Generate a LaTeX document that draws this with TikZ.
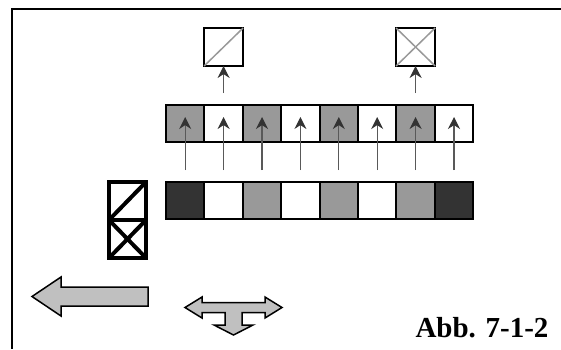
\documentclass[tikz,border=0pt]{standalone}
\usepackage{fontspec}
\setmainfont{Liberation Serif}
\usepackage{xcolor}
\usetikzlibrary{positioning,arrows.meta}
\definecolor{cellgray}{HTML}{999999}
\definecolor{celldark}{HTML}{333333}
\definecolor{arrowfill}{HTML}{C0C0C0}

\begin{document}
\begin{tikzpicture}[x=1pt,y=-1pt,
  cell/.style={draw=black,line width=2pt,minimum width=38.4pt,minimum height=37pt,inner sep=0pt,outer sep=0pt},
  topbox/.style={draw=black,line width=2pt,minimum width=39pt,minimum height=38pt,inner sep=0pt,outer sep=0pt},
  stackbox/.style={draw=black,line width=4pt,minimum width=37pt,minimum height=38pt,inner sep=0pt,outer sep=0pt},
  uparrow/.style={draw=black!65,line width=1.2pt,-{Stealth[length=12pt,width=12pt,color=black!80]}},
  fatarrow/.style={draw=black,line width=1.5pt,fill=arrowfill,line join=miter}]
\useasboundingbox (0,0) rectangle (561,349);
\draw [line width=2.5pt] (11,9) -- (561,9);
\draw [line width=2pt] (12,9) -- (12,349);
\foreach \i/\c in {1/cellgray,2/white,3/cellgray,4/white,5/cellgray,6/white,7/cellgray,8/white}
  \node [cell,fill=\c] (m\i) at (185.2+38.4*\i-38.4,123.5) {};
\foreach \i/\c in {1/celldark,2/white,3/cellgray,4/white,5/cellgray,6/white,7/cellgray,8/celldark}
  \node [cell,fill=\c] (b\i) at (185.2+38.4*\i-38.4,200) {};
\foreach \i in {1,...,8}
  \draw [uparrow,shorten <=11.5pt,shorten >=12pt] (b\i.north) -- (m\i.north);
\node [topbox,above=39pt of m2] (t1) {};
\node [topbox,above=39pt of m7] (t2) {};
\draw [cellgray,line width=1.5pt] (t1.south west) -- (t1.north east);
\draw [cellgray,line width=1.5pt] (t2.south west) -- (t2.north east);
\draw [cellgray,line width=1.5pt] (t2.north west) -- (t2.south east);
\draw [uparrow,shorten <=12pt] (m2.north) -- (t1.south);
\draw [uparrow,shorten <=12pt] (m7.north) -- (t2.south);
\node [stackbox] (s1) at (127.5,201) {};
\node [stackbox,below=0pt of s1] (s2) {};
\draw [line width=4pt] (s1.north east) -- (s1.south west);
\draw [line width=4pt] (s2.north east) -- (s2.south west);
\draw [line width=4pt] (s2.north west) -- (s2.south east);
\draw [fatarrow] (148,287) -- (61,287) -- (61,277) -- (32,296.5) -- (61,316) -- (61,306) -- (148,306) -- cycle;
\draw [fatarrow] (185,307.5) -- (202,297) -- (202,302.5) -- (265,302.5) -- (265,297) -- (282,307.5)
  -- (265,318) -- (265,312.5) -- (242,312.5) -- (242,325) -- (253,325) -- (233.5,335)
  -- (214,325) -- (225,325) -- (225,312.5) -- (202,312.5) -- (202,318) -- cycle;
\node [font=\bfseries\fontsize{29}{30}\selectfont,anchor=base,inner sep=0pt] (cap) at (482,337) {Abb. 7-1-2};
\end{tikzpicture}
\end{document}
